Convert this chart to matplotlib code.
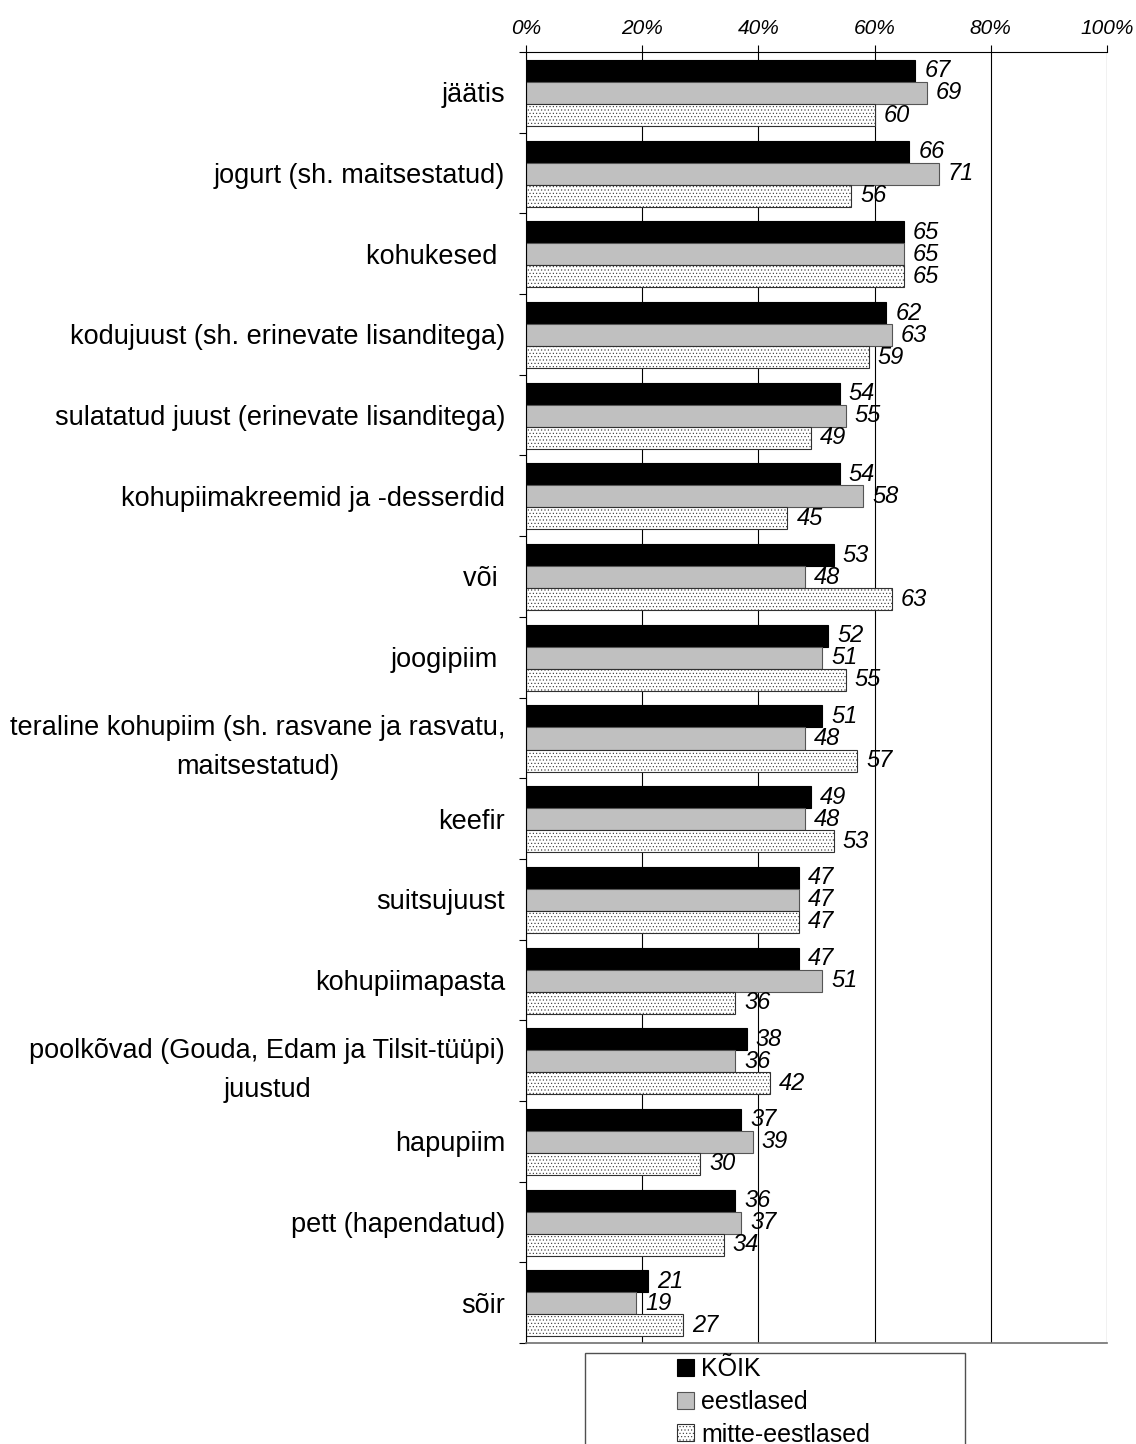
import matplotlib
matplotlib.use("Agg")
import matplotlib.pyplot as plt
from matplotlib.patches import Patch, Rectangle
import numpy as np

plt.rcParams['font.family'] = ['Liberation Sans', 'DejaVu Sans']
plt.rcParams['hatch.linewidth'] = 0.4

categories = [
    "jäätis",
    "jogurt (sh. maitsestatud)",
    "kohukesed ",
    "kodujuust (sh. erinevate lisanditega)",
    "sulatatud juust (erinevate lisanditega)",
    "kohupiimakreemid ja -desserdid",
    "või ",
    "joogipiim ",
    "teraline kohupiim (sh. rasvane ja rasvatu,\nmaitsestatud)",
    "keefir",
    "suitsujuust",
    "kohupiimapasta",
    "poolkõvad (Gouda, Edam ja Tilsit-tüüpi)\njuustud",
    "hapupiim",
    "pett (hapendatud)",
    "sõir",
]
koik = [67, 66, 65, 62, 54, 54, 53, 52, 51, 49, 47, 47, 38, 37, 36, 21]
eestlased = [69, 71, 65, 63, 55, 58, 48, 51, 48, 48, 47, 51, 36, 39, 37, 19]
mitte_eestlased = [60, 56, 65, 59, 49, 45, 63, 55, 57, 53, 47, 36, 42, 30, 34, 27]
series_names = ["KÕIK", "eestlased", "mitte-eestlased"]
xticks = [0, 20, 40, 60, 80, 100]
xtick_labels = ["0%", "20%", "40%", "60%", "80%", "100%"]

fig = plt.figure(figsize=(11.36, 14.44), dpi=100)
ax = fig.add_axes([526/1136, 1-1343/1444, (1107-526)/1136, (1343-52)/1444])

n = len(categories)
y = np.arange(n)
h = 0.273
styles = [
    dict(color="black", edgecolor="black", linewidth=0.8),
    dict(color="#C0C0C0", edgecolor="#555555", linewidth=0.8),
    dict(color="white", edgecolor="#303030", linewidth=0.8, hatch="....."),
]
series = [koik, eestlased, mitte_eestlased]
for k, (vals, st) in enumerate(zip(series, styles)):
    pos = y + (k - 1) * h + 0.008
    bars = ax.barh(pos, vals, height=h, zorder=2, **st)
    for b, v in zip(bars, vals):
        ax.annotate(f"{v}", (b.get_width(), b.get_y() + b.get_height()/2),
                    xytext=(6.5, 0), textcoords="offset points",
                    ha="left", va="center", fontsize=17, style="italic", zorder=4)

ax.set_xlim(0, 100)
ax.set_ylim(n - 0.5, -0.5)
ax.xaxis.tick_top()
ax.set_xticks(xticks)
ax.set_xticklabels(xtick_labels, fontsize=15, style="italic")
ax.tick_params(axis="x", direction="out", length=5, width=0.8, pad=5)
ax.grid(axis="x", color="black", linewidth=0.8, zorder=0)
ax.set_axisbelow(True)

ax.set_yticks(np.arange(n + 1) - 0.5)
ax.set_yticklabels([])
ax.tick_params(axis="y", which="major", direction="out", length=5, width=0.8)
ax.set_yticks(y, minor=True)
ax.set_yticklabels(categories, minor=True, fontsize=19.5)
ax.tick_params(axis="y", which="minor", length=0, pad=15)
for lbl in ax.get_yticklabels(minor=True):
    lbl.set_multialignment("center")
    lbl.set_linespacing(1.65)

ax.spines["right"].set_visible(False)
ax.spines["bottom"].set_color("#707070")
ax.spines["bottom"].set_linewidth(1.2)
for s in ["top", "left"]:
    ax.spines[s].set_linewidth(0.8)

# legend
handles = [Patch(facecolor=st["color"], edgecolor=st["edgecolor"], hatch=st.get("hatch"), linewidth=0.8)
           for st in styles]
leg = fig.legend(handles, series_names, loc="upper left",
                 bbox_to_anchor=(659/1136, 1 - 1340/1444), frameon=False,
                 fontsize=18, handlelength=0.68, handleheight=0.68,
                 handletextpad=0.3, labelspacing=0.34, borderpad=0.2)
fig.patches.append(Rectangle((585/1136, -0.02), (965-585)/1136, 0.02 + 1 - 1353/1444,
                             transform=fig.transFigure, fill=False, edgecolor="#505050",
                             linewidth=1.0))

fig.savefig("out.png", dpi=100)
